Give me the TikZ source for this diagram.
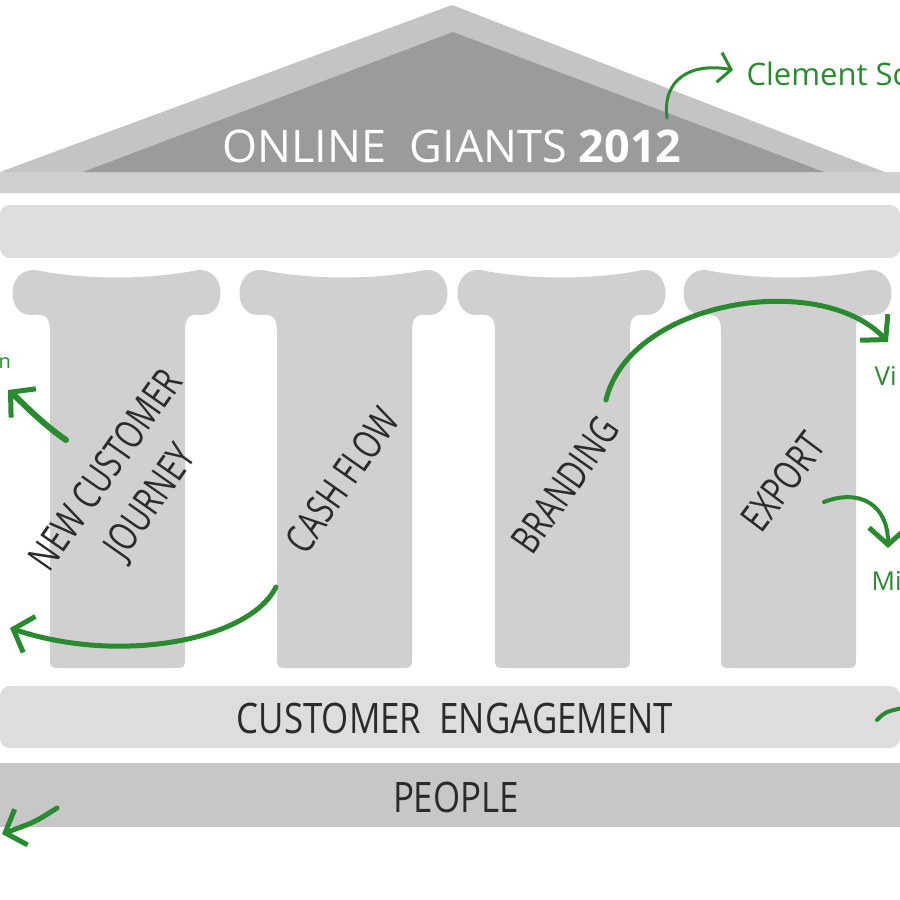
\documentclass[tikz,border=0pt]{standalone}
\usepackage{fontspec}
\usetikzlibrary{arrows.meta}
\newfontfamily\hand[FakeStretch=0.75]{Open Sans}
\newfontfamily\handmid[FakeStretch=0.83]{Open Sans}
\newfontfamily\handwide{Open Sans}
\definecolor{pedlight}{HTML}{C4C4C4}
\definecolor{peddark}{HTML}{9B9B9B}
\definecolor{pedbase}{HTML}{CFCFCF}
\definecolor{beam}{HTML}{DDDDDD}
\definecolor{colgray}{HTML}{D0D0D0}
\definecolor{peoplegray}{HTML}{C7C7C7}
\definecolor{greenink}{HTML}{2A8A30}
\definecolor{inkgray}{HTML}{2B2B2B}
\tikzset{
  garrow/.style={draw=greenink, line width=5pt, line cap=round,
    -{Straight Barb[length=17pt,width=38pt,line width=5pt]}},
  gline/.style={draw=greenink, line width=4pt, line cap=round},
  coltext/.style={text=inkgray, align=center, rotate=55,
    font=\hand\fontsize{40}{54}\selectfont},
  bandtext/.style={text=inkgray, anchor=base, font=\handmid\fontsize{42}{46}\selectfont},
  greentext/.style={text=greenink, anchor=base west, font=\handwide\fontsize{31}{34}\selectfont},
}
\begin{document}
\begin{tikzpicture}[x=1pt,y=-1pt]
\useasboundingbox (0,0) rectangle (900,900);
\fill[white] (0,0) rectangle (900,900);
% pediment
\fill[pedlight] (0,193) -- (0,172) -- (452,5) -- (900,178) -- (900,193) -- cycle;
\fill[pedbase] (0,172) rectangle (900,193);
\fill[peddark] (83,172) -- (453,32) -- (824,172) -- cycle;
\node[text=white, anchor=base, font=\handwide\fontsize{45}{50}\selectfont] (title) at (452,162)
  {ONLINE\ \ GIANTS \textbf{2012}};
% entablature
\fill[beam, rounded corners=10pt] (0,205) rectangle (900,258);
% columns
\foreach \x in {15,242,460,686} {
  \fill[colgray] (\x+20,270) .. controls (\x+70,280) and (\x+133,280) .. (\x+183,270)
    .. controls (\x+212,268) and (\x+213,316) .. (\x+186,315)
    .. controls (\x+172,313) and (\x+170,320) .. (\x+170,332)
    -- (\x+170,655) .. controls (\x+170,668) .. (\x+158,668)
    -- (\x+47,668) .. controls (\x+35,668) .. (\x+35,655)
    -- (\x+35,332) .. controls (\x+35,320) and (\x+33,313) .. (\x+17,315)
    .. controls (\x-10,316) and (\x-9,268) .. (\x+20,270) -- cycle;
}
\node[coltext] (journey) at (130,487) {NEW CUSTOMER\\JOURNEY};
\node[coltext] (cash) at (342,480) {CASH FLOW};
\node[coltext] (brand) at (565,485) {BRANDING};
\node[coltext, rotate=-2] (export) at (783,482) {EXPORT};
% bands
\fill[beam, rounded corners=10pt] (0,686) rectangle (900,748);
\node[bandtext] (engage) at (455,733) {CUSTOMER\ \ ENGAGEMENT};
\fill[peoplegray] (0,763) rectangle (900,827);
\node[bandtext] (people) at (456,812) {PEOPLE};
% green notes
\node[greentext] (clement) at (743,85) {Clement Sc};
\node[greentext, font=\handwide\fontsize{26}{30}\selectfont] (vi) at (871,385) {Vi};
\node[greentext, font=\handwide\fontsize{26}{30}\selectfont] (mi) at (868,590) {Mi};
\node[greentext, font=\handwide\fontsize{20}{24}\selectfont] (nn) at (-5,368) {n};
% green arrows
\coordinate (c1s) at (667,118); \coordinate (c1e) at (733,70);
\draw[garrow, line width=3pt, -{Straight Barb[length=12pt,width=30pt,line width=3pt]}]
  (c1s) .. controls (662,80) and (690,62) .. (c1e);
\coordinate (a2s) at (66,440); \coordinate (a2e) at (8,390);
\draw[garrow, line width=6pt] (a2s) .. controls (40,422) and (22,402) .. (a2e);
\coordinate (a3s) at (276,587); \coordinate (a3e) at (10,628);
\draw[garrow] (a3s) .. controls (250,640) and (120,665) .. (a3e);
\coordinate (a4s) at (606,400); \coordinate (a4e) at (888,342);
\draw[garrow] (a4s) .. controls (630,300) and (820,270) .. (a4e);
\coordinate (a5s) at (824,502); \coordinate (a5e) at (888,548);
\draw[garrow, line width=4pt] (a5s) .. controls (860,488) and (888,505) .. (a5e);
\coordinate (a6s) at (877,720); \coordinate (a6e) at (902,708);
\draw[gline] (a6s) .. controls (885,712) .. (a6e);
\coordinate (a7s) at (57,808); \coordinate (a7e) at (2,834);
\draw[garrow, line width=5pt] (a7s) .. controls (35,822) .. (a7e);
\end{tikzpicture}
\end{document}
